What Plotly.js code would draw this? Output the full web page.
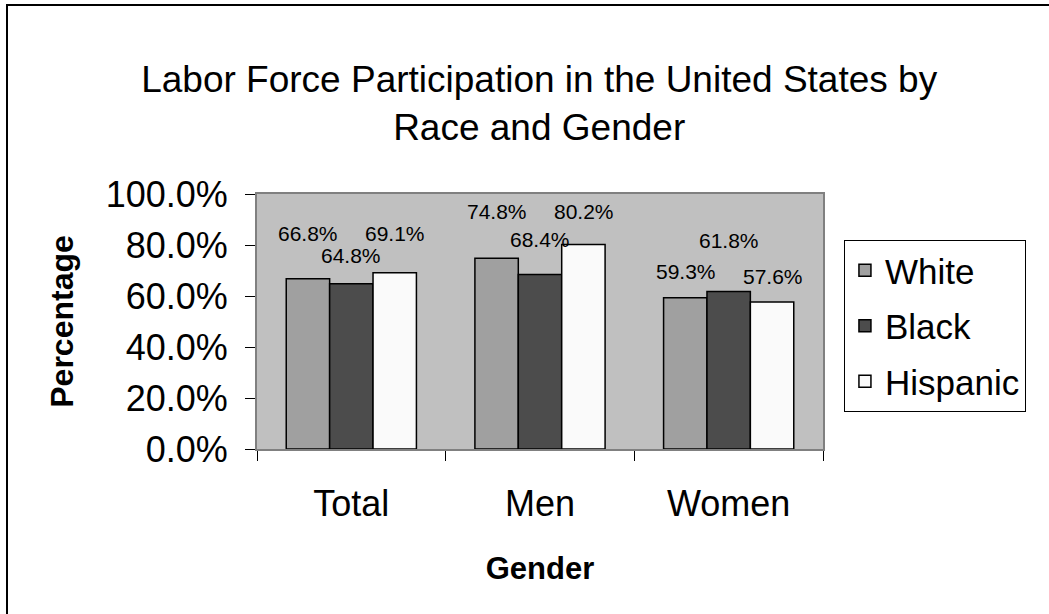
<!DOCTYPE html>
<html>
<head>
<meta charset="utf-8">
<script src="https://cdn.plot.ly/plotly-3.0.1.min.js"></script>
<style>
  body { margin: 0; background: #fff; }
  #wrap { position: relative; width: 1049px; height: 614px; overflow: hidden; }
  #graph { width: 1049px; height: 614px; }
  #frame { position: absolute; left: 6px; top: 4px; width: 1100px; height: 700px;
           border-left: 2px solid #000; border-top: 2px solid #000; pointer-events: none; }
</style>
</head>
<body>
<div id="wrap">
  <div id="graph"></div>
  <div id="frame"></div>
</div>
<script>
document.addEventListener('DOMContentLoaded', function() {

    const categories = ['Total', 'Men', 'Women'];
    const seriesNames = ['White', 'Black', 'Hispanic'];
    const whiteValues = [66.8, 74.8, 59.3];
    const blackValues = [64.8, 68.4, 61.8];
    const hispanicValues = [69.1, 80.2, 57.6];
    const yTickValues = [0, 20, 40, 60, 80, 100];

    const seriesValues = [whiteValues, blackValues, hispanicValues];
    const fills = ['#a0a0a0', '#4c4c4c', '#fafafa'];

    // Excel staggered the labels so they would not collide; lift in px per label
    const labelLift = [
        [45, 47, 26],
        [28, 35, 51],
        [39, 33, 26]
    ];
    const barShift = [-43, 0, 44];

    const traces = seriesValues.map((vals, i) => ({
        type: 'bar',
        name: seriesNames[i],
        x: categories,
        y: vals,
        legendgroup: seriesNames[i],
        marker: { color: fills[i], line: { color: '#000', width: 1.5 } },
        hoverinfo: 'x+y+name'
    }));

    const annotations = [];
    seriesValues.forEach((vals, i) => {
        vals.forEach((v, j) => {
            annotations.push({
                x: categories[j], y: v, xref: 'x', yref: 'y',
                text: v.toFixed(1) + '%',
                showarrow: false,
                xshift: barShift[i], yshift: labelLift[i][j],
                yanchor: 'middle',
                font: { size: 21, color: '#000' }
            });
        });
    });

    const layout = {
        title: {
            text: 'Labor Force Participation in the United States by<br>Race and Gender',
            font: { family: 'Liberation Sans, Arial, sans-serif', size: 37, color: '#000' },
            x: 0.514, xanchor: 'center', xref: 'container',
            y: 0.85, yanchor: 'top', yref: 'container'
        },
        font: { family: 'Liberation Sans, Arial, sans-serif', color: '#000' },
        barmode: 'group',
        bargap: 0.31,
        bargroupgap: 0,
        plot_bgcolor: '#c0c0c0',
        paper_bgcolor: '#fff',
        margin: { l: 257, r: 226, t: 194, b: 165 },
        showlegend: true,
        legend: {
            x: 1.037, xanchor: 'left', y: 0.82, yanchor: 'top',
            bgcolor: '#fff', bordercolor: '#000', borderwidth: 1,
            font: { size: 35 },
            tracegroupgap: 7
        },
        xaxis: {
            type: 'category',
            tickson: 'boundaries',
            ticks: 'outside', ticklen: 10, tickcolor: '#000',
            showline: true, linecolor: '#808080', linewidth: 2, mirror: true,
            tickfont: { size: 36 },
            ticklabelstandoff: 22,
            title: { text: '<b>Gender</b>', font: { size: 31 }, standoff: 34 }
        },
        yaxis: {
            range: [0, 100],
            tickvals: yTickValues,
            ticktext: yTickValues.map(v => v.toFixed(1) + '%'),
            ticks: 'outside', ticklen: 10, tickcolor: '#000',
            showline: true, linecolor: '#808080', linewidth: 2, mirror: true,
            showgrid: false, zeroline: false,
            tickfont: { size: 36 },
            ticklabelstandoff: 10,
            title: { text: '<b>Percentage</b>', font: { size: 32 }, standoff: 22 }
        },
        annotations: annotations
    };

    Plotly.newPlot('graph', traces, layout, { displayModeBar: false });
});
</script>
</body>
</html>
